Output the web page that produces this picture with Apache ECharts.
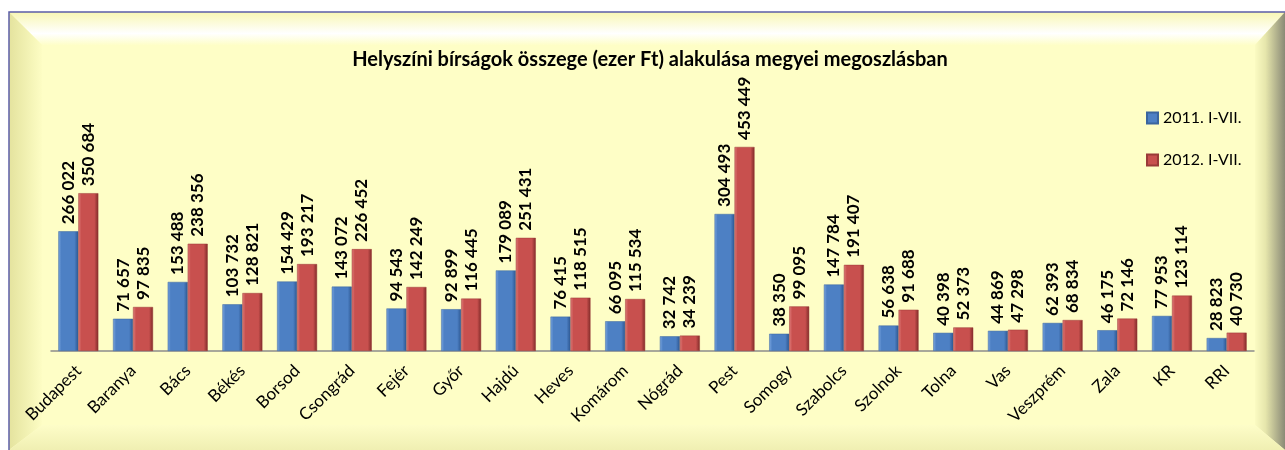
<!DOCTYPE html>
<html>
<head>
<meta charset="utf-8">
<script src="https://cdn.jsdelivr.net/npm/echarts@6/dist/echarts.min.js"></script>
<style>
    html, body { margin: 0; padding: 0; background: #ffffff; }
    #chart { width: 1285px; height: 450px; }
</style>
</head>
<body>
<div id="chart"></div>
<script>
const categories = ['Budapest', 'Baranya', 'Bács', 'Békés', 'Borsod', 'Csongrád', 'Fejér', 'Győr', 'Hajdú', 'Heves', 'Komárom',
    'Nógrád', 'Pest', 'Somogy', 'Szabolcs', 'Szolnok', 'Tolna', 'Vas', 'Veszprém', 'Zala', 'KR', 'RRI'];
const values2011 = [266022, 71657, 153488, 103732, 154429, 143072, 94543, 92899, 179089, 76415, 66095,
    32742, 304493, 38350, 147784, 56638, 40398, 44869, 62393, 46175, 77953, 28823];
const values2012 = [350684, 97835, 238356, 128821, 193217, 226452, 142249, 116445, 251431, 118515, 115534,
    34239, 453449, 99095, 191407, 91688, 52373, 47298, 68834, 72146, 123114, 40730];
const seriesNames = ['2011. I-VII.', '2012. I-VII.'];

const font = 'Lato, "Open Sans", sans-serif';
let numFormatter = (v) => String(v).replace(/\B(?=(\d{3})+(?!\d))/g, ' ');

function barGradient(light, mid, dark) {
    return new echarts.graphic.LinearGradient(0, 0, 1, 0, [
        { offset: 0, color: light },
        { offset: 0.15, color: mid },
        { offset: 0.8, color: mid },
        { offset: 1, color: dark }
    ]);
}

function makeSeries(name, data, colors) {
    return {
        name: name,
        type: 'bar',
        data: data,
        barWidth: 20,
        barGap: '0%',
        itemStyle: {
            color: barGradient(colors[0], colors[1], colors[2]),
            borderColor: colors[3],
            borderWidth: 0.5
        },
        label: {
            show: true,
            position: 'top',
            rotate: 90,
            align: 'left',
            verticalAlign: 'middle',
            distance: 7,
            formatter: (p) => numFormatter(p.value),
            fontFamily: font,
            fontWeight: 'bold',
            fontSize: 17,
            color: '#000'
        }
    };
}

// beveled frame
const X0 = 9, Y0 = 12, X1 = 1285, Y1 = 450;
const IX0 = 42, IY0 = 45, IX1 = 1255, IY1 = 425;
const frame = [
    { type: 'rect', shape: { x: X0, y: Y0, width: X1 - X0, height: Y1 - Y0 }, style: { fill: '#fefec6' }, z: -10 },
    {
        type: 'polygon', z: -9,
        shape: { points: [[X0, Y0], [X1, Y0], [IX1, IY0], [IX0, IY0]] },
        style: { fill: new echarts.graphic.LinearGradient(0, 0, 0, 1, [
            { offset: 0, color: '#f8f7b4' }, { offset: 0.65, color: '#ffffff' }, { offset: 1, color: '#fefec8' }]) }
    },
    {
        type: 'polygon', z: -9,
        shape: { points: [[X0, Y0], [IX0, IY0], [IX0, IY1], [X0, Y1]] },
        style: { fill: new echarts.graphic.LinearGradient(0, 0, 1, 0, [
            { offset: 0, color: '#e4e39e' }, { offset: 1, color: '#fdfdc4' }]) }
    },
    {
        type: 'polygon', z: -9,
        shape: { points: [[X1, Y0], [X1, Y1], [IX1, IY1], [IX1, IY0]] },
        style: { fill: new echarts.graphic.LinearGradient(0, 0, 1, 0, [
            { offset: 0, color: '#fbfbc2' }, { offset: 0.35, color: '#e6e6ac' }, { offset: 1, color: '#8a8a76' }]) }
    },
    {
        type: 'polygon', z: -9,
        shape: { points: [[X0, Y1], [IX0, IY1], [IX1, IY1], [X1, Y1]] },
        style: { fill: new echarts.graphic.LinearGradient(0, 0, 0, 1, [
            { offset: 0, color: '#fdfdc8' }, { offset: 1, color: '#f0efb2' }]) }
    },
    {
        type: 'polyline', z: -8,
        shape: { points: [[X0, Y1], [X0, Y0], [X1, Y0]] },
        style: { stroke: '#5b5ea8', lineWidth: 1.5, fill: null }
    }
];

const chart = echarts.init(document.getElementById('chart'));
chart.setOption({
    animation: false,
    backgroundColor: '#ffffff',
    graphic: frame,
    title: {
        text: 'Helyszíni bírságok összege (ezer Ft) alakulása megyei megoszlásban',
        left: 645,
        textAlign: 'center',
        top: 45,
        textStyle: { fontFamily: font, fontWeight: 'bold', fontSize: 20, color: '#000' }
    },
    legend: {
        orient: 'vertical',
        left: 1141,
        top: 105,
        itemWidth: 11,
        itemHeight: 11,
        itemGap: 26,
        icon: 'rect',
        textStyle: { fontFamily: font, fontSize: 16, color: '#000' },
        data: seriesNames
    },
    grid: { left: 51, right: 31, top: 126, bottom: 99 },
    xAxis: {
        type: 'category',
        data: categories,
        axisLine: { lineStyle: { color: '#8c8c8c', width: 1.5 } },
        axisTick: { show: false },
        axisLabel: {
            interval: 0,
            rotate: 45,
            margin: 17,
            fontFamily: font,
            fontSize: 17,
            color: '#000'
        }
    },
    yAxis: {
        type: 'value',
        min: 0,
        max: 500000,
        show: false,
        splitLine: { show: false }
    },
    series: [
        makeSeries(seriesNames[0], values2011, ['#7aa6e0', '#4d80c4', '#2c5690', '#3a659e']),
        makeSeries(seriesNames[1], values2012, ['#e07c7a', '#c8504e', '#7e2a28', '#9a3a38'])
    ]
});
</script>
</body>
</html>
